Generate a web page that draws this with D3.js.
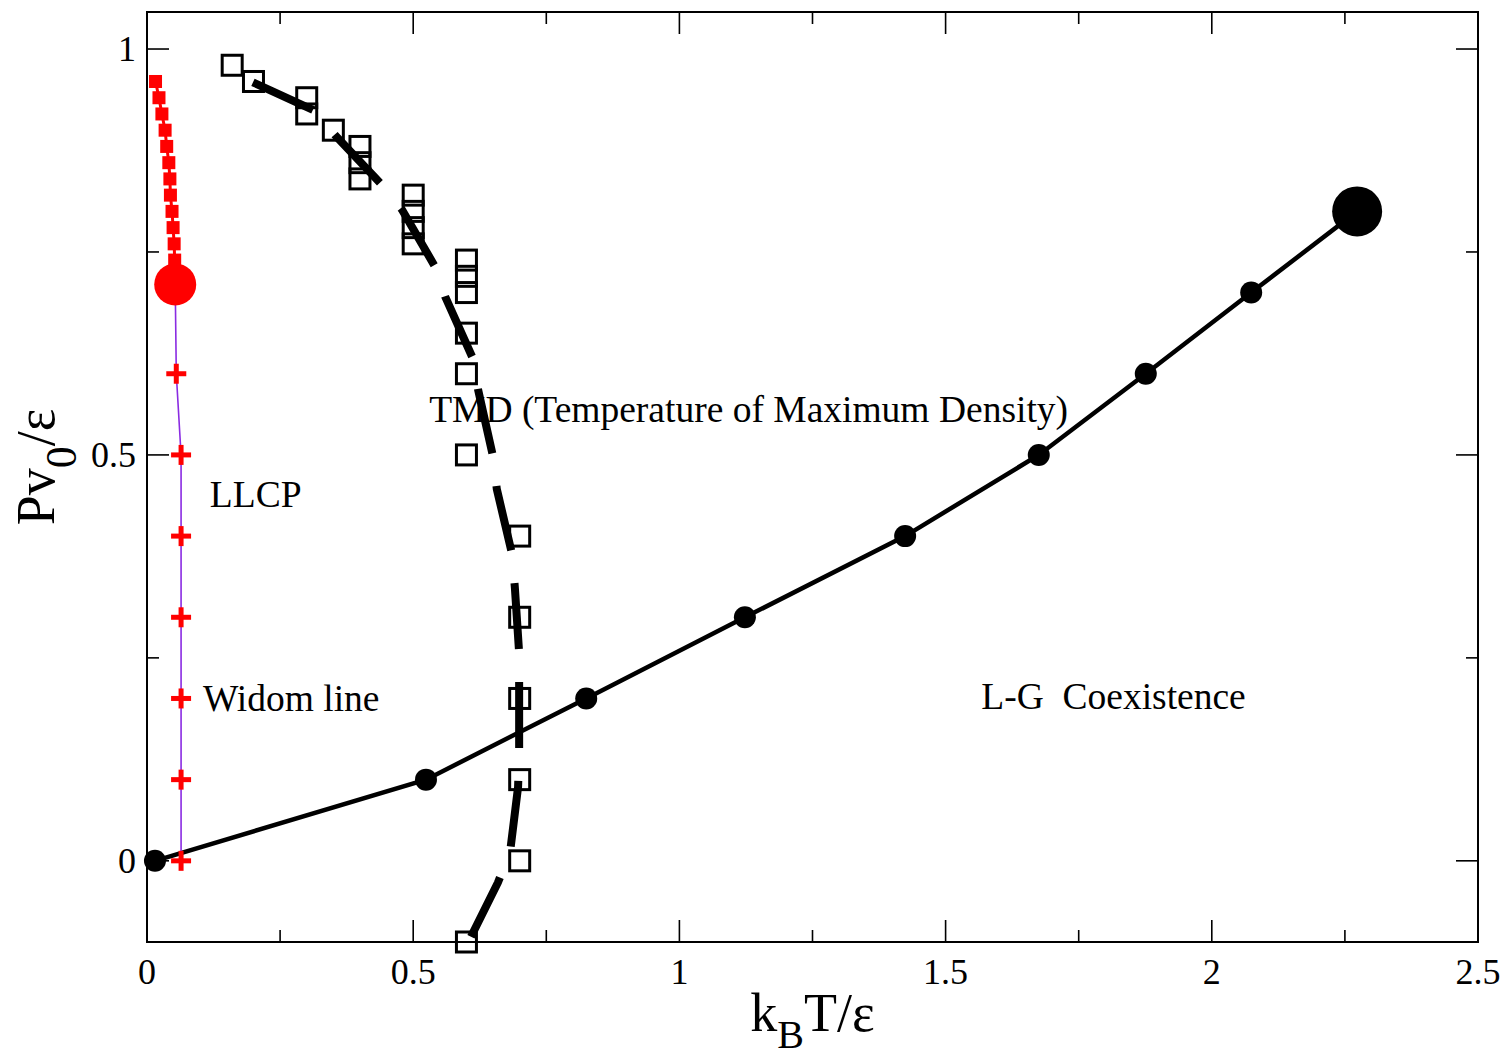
<!DOCTYPE html>
<html>
<head>
<meta charset="utf-8">
<script src="https://cdn.jsdelivr.net/npm/d3@7"></script>
<style>
  body { margin: 0; background: #fff; }
  text { font-family: "Liberation Serif", "DejaVu Serif", serif; }
</style>
</head>
<body>
<svg id="chart"></svg>
<script>
// ---- data ----
// red filled squares above the LLCP
const redT = [0.016, 0.0225, 0.028, 0.034, 0.037, 0.041, 0.043, 0.044, 0.047, 0.049, 0.051, 0.052];
const redP = [0.96, 0.94, 0.92, 0.90, 0.88, 0.86, 0.84, 0.82, 0.80, 0.78, 0.76, 0.74];

// liquid-liquid critical point
const llcpT = [0.053];
const llcpP = [0.71];

// Widom line
const widomT = [0.053, 0.055, 0.064, 0.064, 0.064, 0.064, 0.064, 0.064];
const widomP = [0.71, 0.60, 0.50, 0.40, 0.30, 0.20, 0.10, 0.00];

// TMD open squares
const tmdT = [0.16, 0.20, 0.30, 0.30, 0.35, 0.40, 0.40, 0.40, 0.50, 0.50, 0.50, 0.50,
              0.60, 0.60, 0.60, 0.60, 0.60, 0.60, 0.70, 0.70, 0.70, 0.70, 0.70, 0.60];
const tmdP = [0.98, 0.96, 0.94, 0.92, 0.90, 0.88, 0.86, 0.84, 0.82, 0.80, 0.78, 0.76,
              0.74, 0.72, 0.70, 0.65, 0.60, 0.50, 0.40, 0.30, 0.20, 0.10, 0.00, -0.10];

// TMD fit (thick dashed)
const fitT = [0.199, 0.312, 0.353, 0.438, 0.479, 0.541, 0.560, 0.612, 0.622, 0.650,
              0.657, 0.686, 0.691, 0.699, 0.699, 0.699, 0.697, 0.682, 0.659, 0.603];
const fitP = [0.959, 0.925, 0.894, 0.835, 0.802, 0.732, 0.695, 0.619, 0.580, 0.498,
              0.458, 0.377, 0.336, 0.256, 0.214, 0.131, 0.091, 0.011, -0.027, -0.101];

// liquid-gas coexistence
const lgT = [0.015, 0.524, 0.825, 1.123, 1.424, 1.675, 1.876, 2.074, 2.273];
const lgP = [0.0, 0.1, 0.2, 0.3, 0.4, 0.5, 0.6, 0.7, 0.8];

const xTicks = [0, 0.5, 1, 1.5, 2, 2.5];
const xTickLabels = ["0", "0.5", "1", "1.5", "2", "2.5"];
const yTicks = [0, 0.5, 1];
const yTickLabels = ["0", "0.5", "1"];

// ---- layout ----
const width = 1506;
const height = 1062;
const marginLeft = 147;
const marginRight = 28;
const marginTop = 12;
const marginBottom = 120;

const xScale = d3.scaleLinear()
    .domain([0, 2.5])
    .range([marginLeft, width - marginRight]);

const yScale = d3.scaleLinear()
    .domain([-0.1, 1.0456])
    .range([height - marginBottom, marginTop]);

const svg = d3.select("#chart")
    .attr("width", width)
    .attr("height", height);

const x0 = xScale.range()[0], x1 = xScale.range()[1];
const y0 = yScale.range()[0], y1 = yScale.range()[1];

// frame
svg.append("rect")
    .attr("x", x0).attr("y", y1)
    .attr("width", x1 - x0).attr("height", y0 - y1)
    .attr("fill", "none")
    .attr("stroke", "#000")
    .attr("stroke-width", 2);

// ticks, inward on all four sides
const majorLen = 22, minorLen = 12;
const xMinor = d3.range(0.25, 2.5, 0.5);
const yMinor = [0.25, 0.75];
const ticks = svg.append("g").attr("stroke", "#000").attr("stroke-width", 1.6);

function xTickLines(vals, len) {
  vals.forEach(v => {
    const px = xScale(v);
    ticks.append("line").attr("x1", px).attr("x2", px).attr("y1", y0).attr("y2", y0 - len);
    ticks.append("line").attr("x1", px).attr("x2", px).attr("y1", y1).attr("y2", y1 + len);
  });
}
function yTickLines(vals, len) {
  vals.forEach(v => {
    const py = yScale(v);
    ticks.append("line").attr("x1", x0).attr("x2", x0 + len).attr("y1", py).attr("y2", py);
    ticks.append("line").attr("x1", x1).attr("x2", x1 - len).attr("y1", py).attr("y2", py);
  });
}
xTickLines(xTicks.slice(1, -1), majorLen);
xTickLines(xMinor, minorLen);
yTickLines(yTicks, majorLen);
yTickLines(yMinor, minorLen);

// tick labels
svg.append("g")
  .selectAll("text")
  .data(xTicks)
  .join("text")
    .attr("x", d => xScale(d))
    .attr("y", y0 + 42)
    .attr("text-anchor", "middle")
    .attr("font-size", 36)
    .text((d, i) => xTickLabels[i]);

svg.append("g")
  .selectAll("text")
  .data(yTicks)
  .join("text")
    .attr("x", x0 - 11)
    .attr("y", d => yScale(d) + 12)
    .attr("text-anchor", "end")
    .attr("font-size", 36)
    .text((d, i) => yTickLabels[i]);

// axis titles
const xTitle = svg.append("text")
    .attr("x", (x0 + x1) / 2)
    .attr("y", 1031)
    .attr("text-anchor", "middle")
    .attr("font-size", 54);
xTitle.append("tspan").text("k");
xTitle.append("tspan").attr("dy", 17).attr("font-size", 40).text("B");
xTitle.append("tspan").attr("dy", -17).text("T/\u03b5");

const yTitle = svg.append("text")
    .attr("transform", `translate(54,${yScale(0.5) + 12}) rotate(-90)`)
    .attr("text-anchor", "middle")
    .attr("font-size", 54);
yTitle.append("tspan").text("Pv");
yTitle.append("tspan").attr("dy", 22).attr("font-size", 44).text("0");
yTitle.append("tspan").attr("dy", -22).text("/\u03b5");

// ---- series ----
const zip = (xs, ys) => xs.map((v, i) => [v, ys[i]]);
const line = d3.line().x(d => xScale(d[0])).y(d => yScale(d[1]));

// L-G coexistence
const lg = zip(lgT, lgP);
svg.append("path")
    .attr("d", line(lg))
    .attr("fill", "none")
    .attr("stroke", "#000")
    .attr("stroke-width", 4.5);
svg.append("g")
  .selectAll("circle")
  .data(lg)
  .join("circle")
    .attr("cx", d => xScale(d[0]))
    .attr("cy", d => yScale(d[1]))
    .attr("r", (d, i) => i === lg.length - 1 ? 25 : 11)
    .attr("fill", "#000");

// Widom line
const widom = zip(widomT, widomP);
svg.append("path")
    .attr("d", line(widom))
    .attr("fill", "none")
    .attr("stroke", "#8a2be2")
    .attr("stroke-width", 1.6);
const plus = svg.append("g").attr("stroke", "#ff0000").attr("stroke-width", 5);
widom.slice(1).forEach(d => {
  const px = xScale(d[0]), py = yScale(d[1]);
  plus.append("line").attr("x1", px - 10).attr("x2", px + 10).attr("y1", py).attr("y2", py);
  plus.append("line").attr("x1", px).attr("x2", px).attr("y1", py - 10).attr("y2", py + 10);
});

// red squares towards LLCP
const red = zip(redT, redP);
svg.append("path")
    .attr("d", line(red.concat(zip(llcpT, llcpP))))
    .attr("fill", "none")
    .attr("stroke", "#ff0000")
    .attr("stroke-width", 3);
svg.append("g")
  .selectAll("rect")
  .data(red)
  .join("rect")
    .attr("x", d => xScale(d[0]) - 6.5)
    .attr("y", d => yScale(d[1]) - 6.5)
    .attr("width", 13)
    .attr("height", 13)
    .attr("fill", "#ff0000");

svg.append("g")
  .selectAll("circle")
  .data(zip(llcpT, llcpP))
  .join("circle")
    .attr("cx", d => xScale(d[0]))
    .attr("cy", d => yScale(d[1]))
    .attr("r", 21)
    .attr("fill", "#ff0000");

// TMD fit
svg.append("path")
    .attr("d", line(zip(fitT, fitP)))
    .attr("fill", "none")
    .attr("stroke", "#000")
    .attr("stroke-width", 8)
    .attr("stroke-dasharray", "66,33");

// TMD squares
svg.append("g")
  .selectAll("rect")
  .data(zip(tmdT, tmdP))
  .join("rect")
    .attr("x", d => xScale(d[0]) - 10)
    .attr("y", d => yScale(d[1]) - 10)
    .attr("width", 20)
    .attr("height", 20)
    .attr("fill", "none")
    .attr("stroke", "#000")
    .attr("stroke-width", 3);

// annotations
const notes = [
  { t: 0.53, p: 0.54, label: "TMD (Temperature of Maximum Density)" },
  { t: 0.118, p: 0.436, label: "LLCP" },
  { t: 0.105, p: 0.185, label: "Widom line" },
  { t: 1.567, p: 0.187, label: "L-G  Coexistence" }
];
svg.append("g")
  .selectAll("text")
  .data(notes)
  .join("text")
    .attr("x", d => xScale(d.t))
    .attr("y", d => yScale(d.p))
    .attr("font-size", 37.5)
    .attr("xml:space", "preserve")
    .style("white-space", "pre")
    .text(d => d.label);
</script>
</body>
</html>
